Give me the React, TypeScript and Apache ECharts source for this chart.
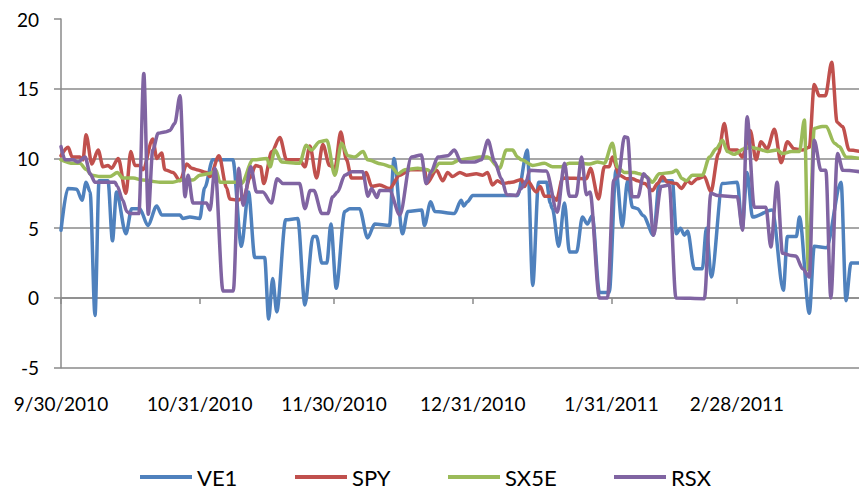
import { useEffect, useRef } from 'react';
import * as echarts from 'echarts';

// x positions are days after 9/30/2010
const tickDays = [0, 31, 61, 92, 123, 151];
const tickLabels = ['9/30/2010', '10/31/2010', '11/30/2010', '12/31/2010', '1/31/2011', '2/28/2011'];
const seriesNames = ['VE1', 'SPY', 'SX5E', 'RSX'];

const ve1Days = [0, 1.5, 3.5, 4.7, 5.6, 6.5, 7.6, 8.5, 10.5, 11.5,
  12.4, 14.5, 15.8, 17.6, 19.4, 21.4, 22.5, 26.6, 27.2, 28.8,
  31, 32.1, 33.9, 38.4, 40.3, 41.9, 43.3, 45.5, 46.4, 47.3,
  48.2, 50.2, 52.9, 54.5, 56.3, 57.1, 58.3, 59.4, 60.3, 61.5,
  63.4, 64.5, 66.7, 68.5, 70.1, 73.4, 74.4, 76.3, 77.5, 80.6,
  81.2, 82.6, 83.5, 87.9, 89.4, 90, 90.8, 92, 102, 104.2,
  105.4, 106.7, 108.5, 109.3, 109.8, 111.2, 112.5, 113.6, 115.2, 116.5,
  117.6, 118.7, 120.3, 122.5, 124, 125.4, 126.6, 127.7, 128.8, 130.1,
  132.4, 133.7, 136.6, 137.5, 138.4, 139.3, 140, 141.5, 143.3, 144.2,
  145.3, 147.8, 151.1, 152.2, 153.3, 154.5, 158.9, 161.4, 162.3, 164.3,
  165, 167.2, 168.3, 171, 174.3, 175.4, 176.5, 178.5];
const ve1Values = [4.85, 7.85, 7.8, 7.0, 8.3, 7.6, -1.25, 8.4, 8.4, 4.1,
  7.6, 4.6, 6.4, 6.4, 5.2, 6.6, 5.95, 5.95, 5.7, 5.8,
  5.7, 7.9, 9.9, 9.9, 3.7, 7.6, 2.9, 2.9, -1.5, 1.4,
  -1.0, 5.6, 5.7, -0.5, 4.4, 4.4, 2.5, 2.5, 5.3, 0.7,
  6.2, 6.4, 6.4, 4.3, 5.3, 5.2, 10.0, 4.6, 6.2, 6.3,
  5.2, 6.9, 6.2, 6.05, 7.0, 6.6, 6.9, 7.35, 7.35, 10.6,
  0.9, 8.3, 8.3, 6.8, 6.4, 3.7, 6.8, 3.3, 3.3, 5.8,
  5.3, 5.9, 0.4, 0.4, 9.2, 5.1, 8.4, 6.5, 6.4, 5.9,
  4.5, 8.4, 8.4, 4.6, 5.0, 4.5, 4.8, 2.1, 2.1, 5.0,
  1.5, 8.2, 8.3, 5.0, 9.0, 5.8, 6.3, 0.55, 4.4, 4.4,
  5.8, -1.1, 3.7, 3.6, 8.3, -0.2, 2.5, 2.5];

const spyDays = [0, 1.6, 2.5, 4.2, 4.9, 5.6, 6.9, 8.3, 9.4, 10.5,
  11.3, 12.8, 14.5, 15.6, 16.5, 17.6, 18.3, 20.5, 21.4, 22.5,
  23.2, 25, 26.6, 28.1, 29.2, 30.3, 32.5, 33.3, 35.3, 37.0,
  37.7, 39.5, 40.8, 42.2, 43.5, 44.6, 45.3, 47.1, 48.9, 50.4,
  53.3, 54.5, 55.6, 57.1, 58.5, 60.0, 61.2, 62.5, 63.8, 64.9,
  67.4, 68.2, 69.4, 71.2, 73.4, 75.7, 78.1, 81.25, 81.7, 83.9,
  85.3, 86.4, 87.5, 89.1, 90.6, 92.8, 94.2, 95.3, 96.4, 97.5,
  98.7, 100.7, 102.9, 103.6, 104.2, 106.2, 107.1, 108.0, 109.8, 110.7,
  112.1, 117.4, 118.3, 120.1, 121.4, 122.5, 123.2, 124.8, 126.3, 127.7,
  128.8, 130.4, 132.1, 133.3, 134.4, 135.5, 137.5, 138.6, 140, 140.8,
  142.2, 143.75, 145.2, 146.9, 148.2, 149.3, 151.1, 152.2, 154.0, 155.3,
  156.4, 157.8, 159.4, 160.9, 162.3, 163.8, 165.6, 167.2, 168.3, 169.4,
  170.8, 172.2, 173.4, 174.6, 176.1, 178.5];
const spyValues = [10.2, 10.8, 10.1, 10.1, 9.9, 11.7, 9.6, 10.6, 9.4, 9.5,
  9.3, 10.0, 7.5, 10.5, 9.5, 9.5, 9.2, 11.4, 10.0, 10.4,
  9.2, 9.0, 8.4, 9.6, 9.3, 9.2, 9.0, 8.7, 10.2, 7.9,
  7.1, 7.0, 7.2, 8.6, 9.5, 9.4, 8.2, 10.5, 11.5, 9.9,
  9.9, 9.4, 10.9, 8.6, 11.0, 9.5, 9.3, 11.9, 9.9, 8.6,
  8.6, 9.0, 8.0, 8.1, 7.85, 8.8, 9.2, 9.2, 8.2, 9.15,
  8.4, 9.0, 8.7, 9.0, 8.8, 8.9, 8.8, 9.0, 8.1, 8.4,
  8.2, 8.3, 8.5, 8.0, 8.4, 7.6, 8.0, 7.3, 7.3, 7.0,
  8.6, 8.55, 9.3, 7.1, 9.4, 9.4, 10.1, 8.8, 8.55, 8.55,
  8.4, 8.2, 7.7, 8.2, 8.7, 8.3, 8.2, 7.85, 8.4, 8.2,
  8.55, 8.7, 7.6, 10.35, 12.5, 10.6, 10.6, 10.1, 12.0, 9.9,
  11.2, 10.7, 12.1, 9.7, 11.2, 10.7, 10.6, 10.8, 15.3, 14.5,
  14.5, 16.9, 12.6, 12.3, 10.6, 10.5];

const sx5eDays = [0, 2.7, 4.2, 5.7, 6.9, 8.7, 10.9, 12.6, 13.8, 16.1,
  18.3, 22.1, 25, 26.9, 29.5, 31.0, 32.8, 33.9, 34.6, 35.5,
  39.5, 40.3, 42.9, 46.0, 46.7, 47.8, 49.3, 53.3, 54.8, 55.9,
  57.8, 59.4, 61.2, 62.7, 64.1, 65.6, 67.5, 68.5, 71.6, 73.8,
  75.3, 76.8, 79.7, 81.9, 82.7, 84.6, 87.2, 89.1, 91.3, 93.5,
  95.3, 98.0, 99.5, 100.9, 102, 102.9, 105.4, 108.0, 109.8, 111.8,
  113.6, 116.3, 118.1, 119.9, 121.4, 123.2, 124.3, 125.9, 128.1, 129.2,
  130.8, 132.1, 133.7, 136.4, 137.5, 138.8, 139.7, 141.1, 143.3, 144.9,
  146.4, 147.8, 148.9, 150.4, 152.7, 154.2, 155.6, 157.8, 160.0, 161.2,
  163.2, 165.0, 166.1, 167.0, 168.3, 170.1, 171.0, 172.8, 173.9, 175.4,
  178.5];
const sx5eValues = [9.9, 9.65, 9.65, 9.2, 8.8, 8.7, 8.7, 9.0, 8.6, 8.6,
  8.45, 8.3, 8.3, 8.45, 8.45, 8.8, 8.9, 9.0, 9.2, 8.3,
  8.3, 8.2, 9.9, 10.0, 9.4, 10.6, 9.75, 9.65, 10.95, 10.6,
  11.2, 11.3, 8.8, 11.1, 10.2, 10.1, 10.5, 9.9, 9.6, 9.4,
  8.9, 9.2, 9.3, 9.2, 9.0, 9.65, 9.65, 9.9, 10.0, 10.1,
  10.1, 9.3, 10.6, 10.6, 10.1, 9.9, 9.5, 9.65, 9.4, 9.4,
  9.65, 9.65, 9.6, 9.75, 9.65, 11.1, 9.4, 9.0, 9.0, 8.9,
  8.7, 8.3, 8.9, 9.0, 9.15, 8.55, 8.4, 8.8, 8.8, 10.1,
  10.7, 11.3, 10.5, 10.3, 10.7, 10.8, 10.7, 10.5, 10.6, 10.35,
  10.5, 10.5, 12.75, 2.0, 12.15, 12.3, 12.3, 11.1, 10.85, 10.1,
  10.0];

const rsxDays = [0, 0.9, 2.7, 3.8, 5.4, 6.5, 7.6, 12.05, 12.6, 13.8,
  14.7, 15.4, 17.4, 18.5, 19.5, 20.5, 21.7, 23.2, 24.3, 25.4,
  26.6, 27.7, 28.4, 29.5, 32.5, 33.3, 34.4, 36.2, 38.5, 39.7,
  40.7, 42.4, 43.7, 45.1, 47.0, 48.3, 49.6, 53.3, 54.5, 55.7,
  56.5, 58.3, 59.6, 60.7, 61.8, 63.4, 65.0, 67.4, 68.6, 69.4,
  70.6, 71.2, 73.4, 75.7, 78.3, 80.5, 81.6, 82.7, 84.2, 86.4,
  87.9, 89.4, 92.4, 93.9, 95.4, 96.9, 98.4, 99.6, 101.7, 102.8,
  104.0, 104.7, 108.4, 110.9, 112.5, 113.6, 115.1, 116.3, 117.4, 118.2,
  120.3, 122.1, 123.5, 124.5, 125.9, 126.6, 127.6, 128.9, 130.2, 131.1,
  132.4, 134.1, 135.9, 137.4, 143.75, 145.2, 146.7, 151.1, 152.3, 153.3,
  154.9, 157.5, 158.6, 160.0, 161.2, 163.1, 164.2, 165.7, 167.2, 168.3,
  169.8, 170.9, 172.0, 173.5, 174.7, 178.5];
const rsxValues = [10.85, 9.9, 9.9, 9.75, 10.1, 8.9, 8.3, 8.3, 8.0, 7.0,
  6.2, 6.05, 6.05, 16.1, 6.0, 10.6, 11.8, 11.9, 12.0, 12.5,
  14.5, 7.25, 8.8, 6.8, 6.8, 6.3, 9.3, 0.5, 0.5, 9.3,
  6.65, 9.4, 7.6, 7.6, 6.8, 8.55, 8.2, 8.2, 6.4, 7.7,
  7.7, 6.05, 6.05, 7.25, 7.6, 8.8, 9.05, 9.05, 7.3, 7.85,
  7.2, 7.7, 7.7, 5.95, 10.1, 10.25, 8.2, 9.05, 10.1, 10.2,
  10.6, 9.75, 9.75, 9.9, 11.3, 9.75, 8.55, 7.4, 7.35, 7.85,
  8.4, 9.15, 9.1, 6.15, 9.65, 7.3, 7.3, 10.1, 7.4, 7.6,
  0.0, 0.0, 8.45, 8.7, 11.55, 11.5, 7.25, 7.25, 8.9, 8.6,
  4.5, 8.0, 8.1, 0.0, -0.05, 7.5, 7.35, 7.25, 4.85, 13.0,
  6.5, 6.5, 3.65, 8.3, 3.2, 3.05, 3.0, 2.1, 1.5, 11.3,
  9.15, 9.15, 0.0, 10.35, 9.15, 9.05];

const colors = ['#4F81BD', '#C0504D', '#9BBB59', '#8064A2'];
const legendLefts = [135, 290, 443, 609];

export default function App() {
  const ref = useRef<HTMLDivElement>(null);
  useEffect(() => {
    if (!ref.current) return;
    const chart = echarts.init(ref.current, null, { renderer: 'svg' });
    const font = 'Lato, "Open Sans", sans-serif';
    const gray = '#8a8a8a';
    const allDays = [ve1Days, spyDays, sx5eDays, rsxDays];
    const allVals = [ve1Values, spyValues, sx5eValues, rsxValues];
    const series = seriesNames.map((name, k) => ({
      name,
      type: 'line',
      xAxisIndex: 0,
      yAxisIndex: 0,
      data: allDays[k].map((d, i) => [d, allVals[k][i]]),
      smooth: 0.3,
      smoothMonotone: 'x',
      showSymbol: false,
      symbol: 'none',
      clip: true,
      lineStyle: { width: 3.5, color: colors[k], cap: 'round', join: 'round' },
      itemStyle: { color: colors[k] },
      emphasis: { disabled: true },
    }));
    const plotHeight = 489 - 19 - 121.3;
    chart.setOption({
      animation: false,
      backgroundColor: '#ffffff',
      grid: { left: 61, right: 0, top: 19, bottom: 121.3, containLabel: false, outerBoundsMode: 'none' },
      xAxis: [
        {
          type: 'value',
          position: 'bottom',
          min: 0,
          max: 178.3,
          axisLine: { show: false, onZero: false },
          axisTick: { show: false },
          axisLabel: {
            show: true,
            customValues: tickDays,
            formatter: (v: number) => {
              const idx = tickDays.indexOf(Math.round(v));
              return idx >= 0 ? tickLabels[idx] : '';
            },
            margin: 26,
            fontFamily: font,
            fontSize: 19,
            color: '#000',
          },
          splitLine: { show: false },
        },
        {
          type: 'value',
          position: 'bottom',
          offset: -plotHeight / 5,
          min: 0,
          max: 178.3,
          axisLine: { show: true, onZero: false, lineStyle: { color: gray, width: 1.5 } },
          axisTick: { show: true, length: 6, customValues: tickDays, lineStyle: { color: gray, width: 1.5 } },
          axisLabel: { show: false },
          splitLine: { show: false },
        },
      ],
      yAxis: {
        type: 'value',
        min: -5,
        max: 20,
        interval: 5,
        axisLine: { show: true, onZero: false, lineStyle: { color: gray, width: 1.5 } },
        axisTick: { show: true, length: 7, lineStyle: { color: gray, width: 1.5 } },
        axisLabel: { margin: 22, fontFamily: font, fontSize: 19, color: '#000' },
        splitLine: { show: true, showMaxLine: false, lineStyle: { color: gray, width: 1.5 } },
      },
      legend: seriesNames.map((name, k) => ({
        data: [name],
        left: legendLefts[k],
        top: 460,
        padding: 5,
        icon: 'rect',
        itemWidth: 52,
        itemHeight: 4,
        itemGap: 0,
        selectedMode: false,
        textStyle: { fontFamily: font, fontSize: 22, lineHeight: 24, color: '#000' },
      })),
      series,
    });
    return () => chart.dispose();
  }, []);
  return (
    <div
      ref={ref}
      style={{ position: 'fixed', left: 0, top: 0, width: 859, height: 489, background: '#fff' }}
    />
  );
}
